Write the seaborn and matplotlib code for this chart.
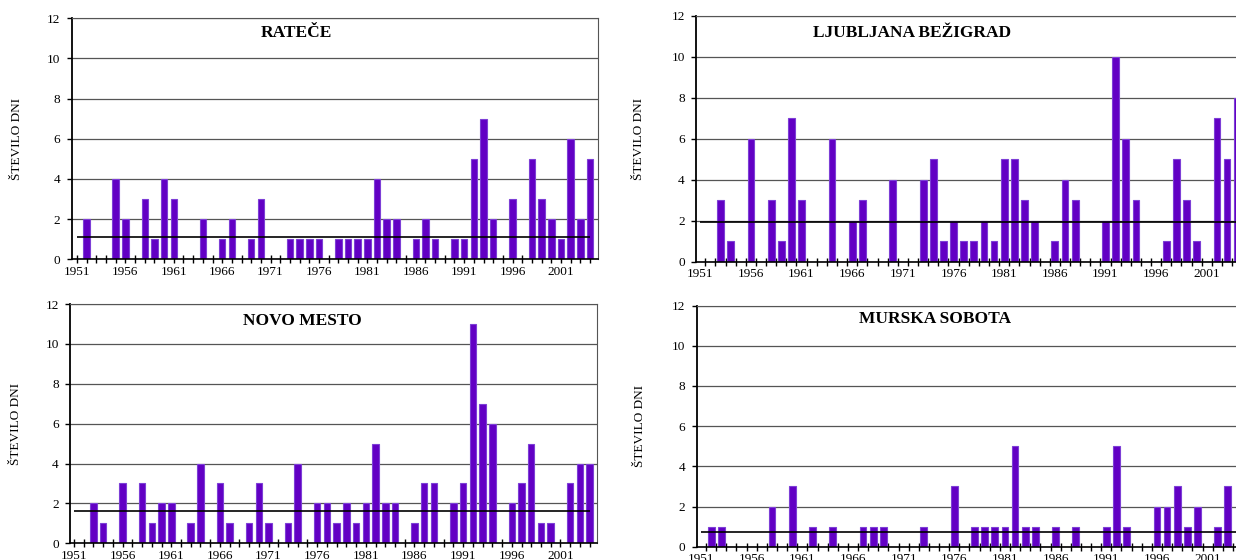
import numpy as np
import pandas as pd
import matplotlib
matplotlib.use('Agg')
from matplotlib import pyplot as plt
import seaborn as sns

plt.rcParams['font.family'] = ['Liberation Serif', 'DejaVu Serif']

years = list(range(1951, 2005))

ratece = [0, 2, 0, 0, 4, 2, 0, 3, 1, 4,
          3, 0, 0, 2, 0, 1, 2, 0, 1, 3,
          0, 0, 1, 1, 1, 1, 0, 1, 1, 1,
          1, 4, 2, 2, 0, 1, 2, 1, 0, 1,
          1, 5, 7, 2, 0, 3, 0, 5, 3, 2,
          1, 6, 2, 5]
ljubljana = [0, 0, 3, 1, 0, 6, 0, 3, 1, 7,
             3, 0, 0, 6, 0, 2, 3, 0, 0, 4,
             0, 0, 4, 5, 1, 2, 1, 1, 2, 1,
             5, 5, 3, 2, 0, 1, 4, 3, 0, 0,
             2, 10, 6, 3, 0, 0, 1, 5, 3, 1,
             0, 7, 5, 8]
novo_mesto = [0, 0, 2, 1, 0, 3, 0, 3, 1, 2,
              2, 0, 1, 4, 0, 3, 1, 0, 1, 3,
              1, 0, 1, 4, 0, 2, 2, 1, 2, 1,
              2, 5, 2, 2, 0, 1, 3, 3, 0, 2,
              3, 11, 7, 6, 0, 2, 3, 5, 1, 1,
              0, 3, 4, 4]
murska_sobota = [0, 1, 1, 0, 0, 0, 0, 2, 0, 3,
                 0, 1, 0, 1, 0, 0, 1, 1, 1, 0,
                 0, 0, 1, 0, 0, 3, 0, 1, 1, 1,
                 1, 5, 1, 1, 0, 1, 0, 1, 0, 0,
                 1, 5, 1, 0, 0, 2, 2, 3, 1, 2,
                 0, 1, 3, 0]

# ime postaje, podatki, polozaj osi, xlim, polozaj naslova, tick na sredini?
panels = [
    ('RATEČE', ratece, [0.0580, 0.5370, 0.4256, 0.4304], (-0.55, 53.8), (22.7, 11.06), True),
    ('LJUBLJANA BEŽIGRAD', ljubljana, [0.5631, 0.5327, 0.4442, 0.4393], (-0.42, 53.77), (20.9, 10.96), False),
    ('NOVO MESTO', novo_mesto, [0.0566, 0.0298, 0.4261, 0.4273], (-0.41, 53.72), (23.5, 10.95), True),
    ('MURSKA SOBOTA', murska_sobota, [0.5637, 0.0238, 0.4442, 0.4304], (-0.42, 53.77), (23.1, 11.12), False),
]

bar_color = '#6200c4'
edge_color = '#7d3fd6'

fig = plt.figure(figsize=(12.36, 5.6), dpi=100)

for name, values, pos, xlim, tpos, centered in panels:
    ax = fig.add_axes(pos)
    df = pd.DataFrame({'leto': years, 'dni': values})
    sns.barplot(data=df, x='leto', y='dni', color=bar_color, saturation=1,
                width=0.67, linewidth=0.8, edgecolor=edge_color,
                errorbar=None, ax=ax)

    # povprecje 1961-1990
    ref = df[(df['leto'] >= 1961) & (df['leto'] <= 1990)]['dni'].mean()
    ax.hlines(ref, 0, len(years) - 1, color='black', linewidth=1.2, zorder=3)

    ax.set_xlim(*xlim)
    ax.set_ylim(0, 12)
    ax.set_yticks(range(0, 13, 2))
    ax.yaxis.grid(True, color='#555555', linewidth=0.9)
    ax.set_axisbelow(True)

    n = len(years)
    lbl = [str(y) if (y - 1951) % 5 == 0 else '' for y in years]
    if centered:
        ax.set_xticks(range(n))
        ax.set_xticklabels(lbl)
        ax.tick_params(axis='x', direction='inout', length=6, width=1, pad=1.5)
    else:
        ax.set_xticks(range(n))
        ax.set_xticklabels(lbl)
        ax.tick_params(axis='x', which='major', length=0, pad=4.5)
        ax.set_xticks(np.arange(0.5, n, 1), minor=True)
        ax.tick_params(axis='x', which='minor', direction='inout', length=6, width=1)
    ax.tick_params(axis='y', direction='out', length=3.6, width=1, pad=4.5)
    ax.tick_params(labelsize=9.5)

    ax.set_xlabel('')
    ax.set_ylabel('ŠTEVILO DNI', fontsize=9.5)
    ax.yaxis.set_label_coords(-0.092, 0.5)

    ax.spines['left'].set_color('black')
    ax.spines['left'].set_linewidth(1.3)
    ax.spines['bottom'].set_color('black')
    ax.spines['bottom'].set_linewidth(1.2)
    ax.spines['top'].set_color('#555555')
    ax.spines['right'].set_color('#555555')

    ax.text(tpos[0], tpos[1], name, ha='center', va='baseline',
            fontsize=12.5, fontweight='bold')

plt.savefig('out.png', dpi=100)
